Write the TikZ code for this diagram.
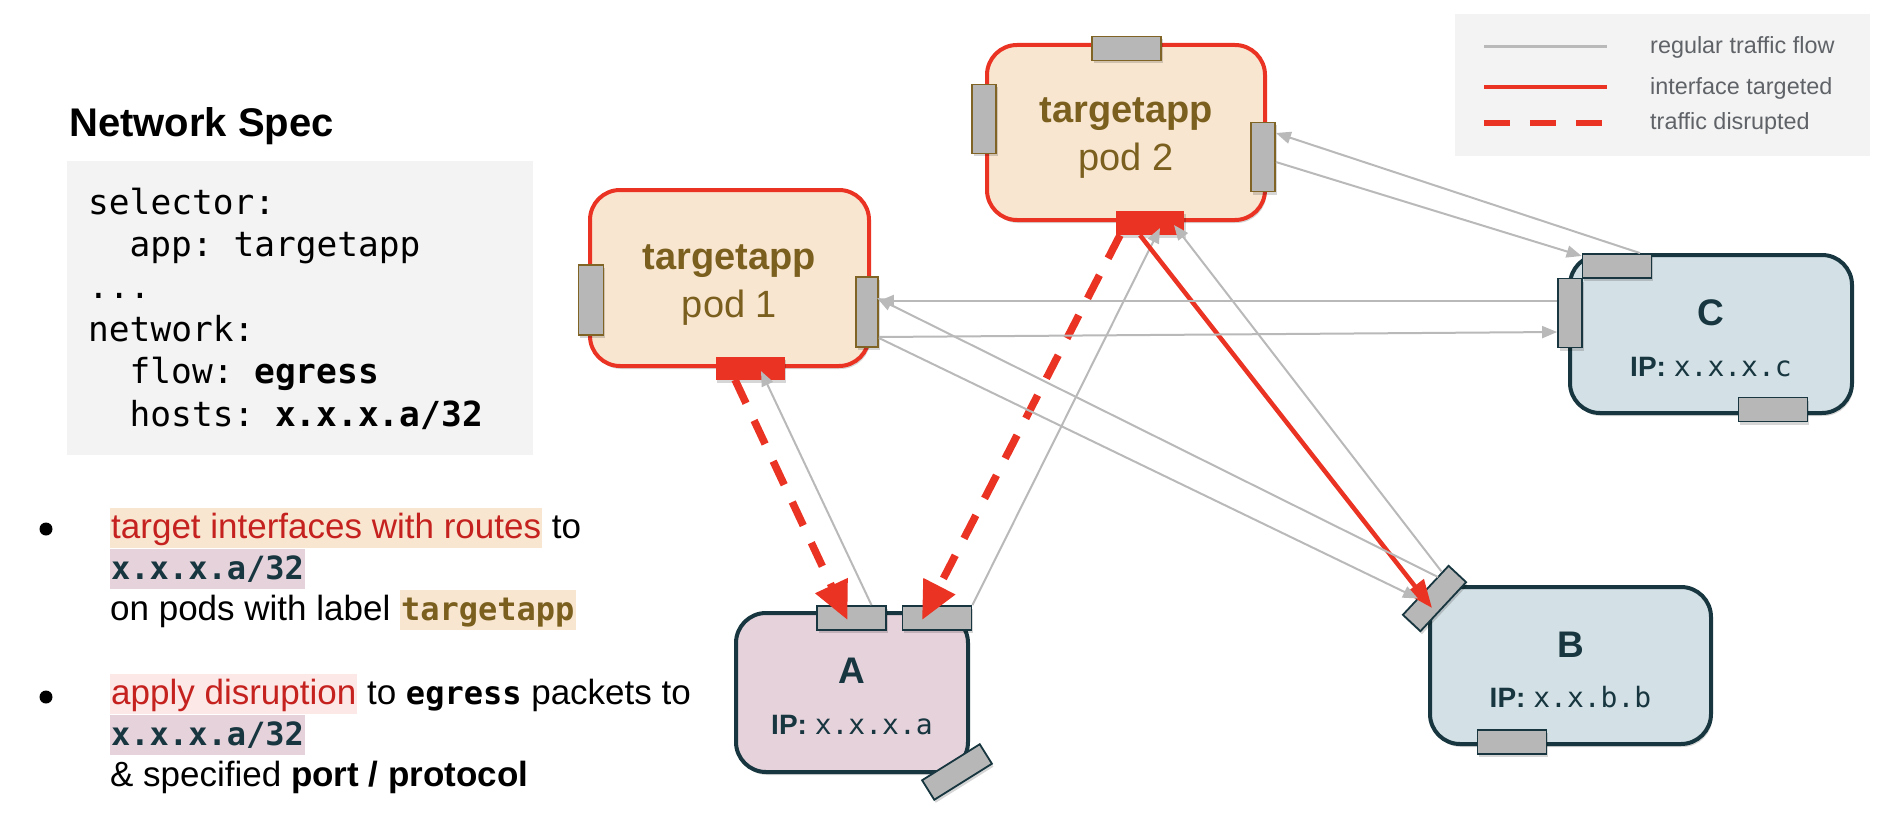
\documentclass[tikz,border=0pt]{standalone}
\usepackage{fontspec}
\setmainfont{Liberation Sans}
\setsansfont{Liberation Sans}
\setmonofont{DejaVu Sans Mono}
\usetikzlibrary{arrows.meta,shadows}

\definecolor{podfill}{HTML}{F9E6D1}
\definecolor{podred}{HTML}{EA3323}
\definecolor{brownink}{HTML}{7A5F1E}
\definecolor{ifgray}{HTML}{B7B7B7}
\definecolor{ifbrown}{HTML}{7F6425}
\definecolor{tealink}{HTML}{17363F}
\definecolor{hostA}{HTML}{E6D2DB}
\definecolor{hostBC}{HTML}{D3E0E5}
\definecolor{panel}{HTML}{F3F3F3}
\definecolor{flowgray}{HTML}{B9B9B9}
\definecolor{legendtext}{HTML}{5F6368}
\definecolor{hlpeach}{HTML}{F9E6D1}
\definecolor{hlpink}{HTML}{FCE8E6}
\definecolor{hllav}{HTML}{E6D2DB}
\definecolor{alertred}{HTML}{C5221F}

% highlighted run of text with a fixed-height background
\newcommand\hlbox[2]{{\setlength\fboxsep{1pt}\colorbox{#1}{\vrule width 0pt height 29pt depth 9pt#2}}}
\newcommand\bmono{\fontsize{32pt}{41pt}\selectfont\ttfamily\bfseries}

\tikzset{
  txt/.style={inner sep=0pt, anchor=base west},
  ctxt/.style={inner sep=0pt, anchor=base},
  codeline/.style={txt, font=\fontsize{34.5pt}{41pt}\selectfont\ttfamily},
  bline/.style={txt, font=\fontsize{35pt}{41pt}\selectfont},
  legendline/.style={txt, text=legendtext, font=\fontsize{23.4pt}{28pt}\selectfont},
  softshadow/.style={drop shadow={shadow xshift=1.5pt, shadow yshift=-3pt, opacity=.16, fill=black}},
  podbox/.style={draw=podred, line width=4pt, fill=podfill, rounded corners=30pt, inner sep=0pt, softshadow},
  hostbox/.style={draw=tealink, line width=4pt, rounded corners=30pt, inner sep=0pt, softshadow},
  ifpod/.style={draw=ifbrown, line width=1.8pt, fill=ifgray, inner sep=0pt, softshadow},
  ifhost/.style={draw=tealink, line width=1.8pt, fill=ifgray, inner sep=0pt, softshadow},
  ifred/.style={fill=podred, inner sep=0pt, softshadow},
  hwide/.style={minimum width=69pt, minimum height=24pt},
  vtall/.style={minimum width=24pt, minimum height=69pt},
  flow/.style={draw=flowgray, line width=2pt, -{Triangle[length=15pt,width=12pt]}},
  hit/.style={draw=podred, line width=4.5pt, -{Triangle[length=28pt,width=22pt]}},
  cut/.style={draw=podred, line width=7.5pt, dash pattern=on 26pt off 19pt, -{Triangle[length=38pt,width=34pt]}},
  podtitle/.style={ctxt, text=brownink, font=\fontsize{38pt}{44pt}\selectfont\bfseries},
  podname/.style={ctxt, text=brownink, font=\fontsize{38pt}{44pt}\selectfont},
  hostname/.style={ctxt, text=tealink, font=\fontsize{37pt}{44pt}\selectfont\bfseries},
  hostip/.style={ctxt, text=tealink, font=\fontsize{28pt}{34pt}\selectfont},
}

\begin{document}
\begin{tikzpicture}[x=1pt,y=-1pt]
\useasboundingbox (0,0) rectangle (1898,832);

% ---------- network spec panel ----------
\node[txt, font=\fontsize{40pt}{48pt}\selectfont\bfseries] (title) at (69,136) {Network Spec};
\node[fill=panel, minimum width=466pt, minimum height=294pt, inner sep=0pt] (codebox) at (300,308) {};
\node[codeline] (c1) at (88,214) {selector:};
\node[codeline] (c2) at (129.5,256) {app: targetapp};
\node[codeline] (c3) at (88,298) {...};
\node[codeline] (c4) at (88,341) {network:};
\node[codeline] (c5) at (129.5,383) {flow: \textbf{egress}};
\node[codeline] (c6) at (129.5,426) {hosts: \textbf{x.x.x.a/32}};

% ---------- bullet notes ----------
\node[circle, fill=black, minimum size=13pt, inner sep=0pt] (dot1) at (46,529) {};
\node[circle, fill=black, minimum size=13pt, inner sep=0pt] (dot2) at (46,697) {};
\node[bline] (b1) at (110,538) {\hlbox{hlpeach}{\color{alertred}target interfaces with routes} to};
\node[bline] (b2) at (110,579) {\hlbox{hllav}{\bmono\color{tealink}x.x.x.a/32}};
\node[bline] (b3) at (110,620) {on pods with label \hlbox{hlpeach}{\bmono\color{brownink}targetapp}};
\node[bline] (b4) at (110,704) {\hlbox{hlpink}{\color{alertred}apply disruption} to {\bmono egress} packets to};
\node[bline] (b5) at (110,745) {\hlbox{hllav}{\bmono\color{tealink}x.x.x.a/32}};
\node[bline] (b6) at (110,786) {\& specified \textbf{port / protocol}};

% ---------- legend ----------
\node[fill=panel, minimum width=415pt, minimum height=142pt, inner sep=0pt] (legend) at (1662.5,85) {};
\coordinate (lg1a) at (1484,47);  \coordinate (lg1b) at (1607,47);
\coordinate (lg2a) at (1484,87);  \coordinate (lg2b) at (1607,87);
\coordinate (lg3a) at (1484,123); \coordinate (lg3b) at (1607,123);
\draw[flowgray, line width=3pt] (lg1a) -- (lg1b);
\draw[podred, line width=4.5pt] (lg2a) -- (lg2b);
\draw[podred, line width=6.5pt, dash pattern=on 26pt off 20pt] (lg3a) -- (lg3b);
\node[legendline] (lt1) at (1650,54) {regular traffic flow};
\node[legendline] (lt2) at (1650,95) {interface targeted};
\node[legendline] (lt3) at (1650,130) {traffic disrupted};

% ---------- pods ----------
\node[podbox, minimum width=279pt, minimum height=176pt] (pod1) at (729.5,278) {};
\node[podbox, minimum width=278pt, minimum height=175pt] (pod2) at (1126,132.5) {};
\node[podtitle] (pod1t) at (729.5,269) {targetapp};
\node[podname]  (pod1n) at (729.5,317) {pod 1};
\node[podtitle] (pod2t) at (1126,123) {targetapp};
\node[podname]  (pod2n) at (1126,171) {pod 2};

% ---------- hosts ----------
\node[hostbox, fill=hostA, minimum width=232pt, minimum height=159pt] (A) at (852,692.5) {};
\node[hostbox, fill=hostBC, minimum width=281pt, minimum height=157pt] (B) at (1570.5,665.5) {};
\node[hostbox, fill=hostBC, minimum width=282pt, minimum height=158pt] (C) at (1711,334) {};
\node[hostname] (At) at (852,683) {A};
\node[hostip]   (Ai) at (852,734) {\textbf{IP:} {\ttfamily x.x.x.a}};
\node[hostname] (Bt) at (1570.5,657) {B};
\node[hostip]   (Bi) at (1570.5,707) {\textbf{IP:} {\ttfamily x.x.b.b}};
\node[hostname] (Ct) at (1711,325) {C};
\node[hostip]   (Ci) at (1711,376) {\textbf{IP:} {\ttfamily x.x.x.c}};

% ---------- interfaces ----------
\node[ifpod, minimum width=25pt, minimum height=70pt] (p1L) at (591,300) {};
\node[ifpod, minimum width=22pt, minimum height=70pt] (p1R) at (867,312) {};
\node[ifred, minimum width=69pt, minimum height=23pt] (p1X) at (750,368) {};
\node[ifpod, hwide] (p2T) at (1126.5,48.5) {};
\node[ifpod, vtall] (p2L) at (984,119) {};
\node[ifpod, vtall] (p2R) at (1263,157) {};
\node[ifred, minimum width=68pt, minimum height=24pt] (p2X) at (1150,223) {};
\node[ifhost, hwide] (A1) at (851.5,618) {};
\node[ifhost, hwide] (A2) at (937,618) {};
\node[ifhost, minimum width=68pt, minimum height=23pt, rotate=32] (A3) at (957,772) {};
\node[ifhost, minimum width=67pt, minimum height=24pt, rotate=47] (B1) at (1434.5,598.5) {};
\node[ifhost, hwide] (B2) at (1512,742) {};
\node[ifhost, hwide] (C1) at (1617,266) {};
\node[ifhost, vtall] (C2) at (1570,313) {};
\node[ifhost, hwide] (C3) at (1773,409.5) {};

% ---------- traffic ----------
% pod 1 <-> A
\draw[flow] ([xshift=20pt]A1.north) -- ([xshift=11pt,yshift=-3pt]p1X.center);
\draw[cut]  ([xshift=-15pt]p1X.south) -- ([xshift=-4pt,yshift=-2pt]A1.center);
% pod 2 <-> A
\draw[flow] (A2.north east) -- ([xshift=10pt,yshift=-5pt]p2X.center);
\draw[cut]  ([xshift=-30pt]p2X.south) -- ([xshift=-15pt,yshift=-2pt]A2.center);
% pod 2 <-> B
\draw[flow] ([xshift=7pt,yshift=27pt]B1.center) -- ([xshift=24pt,yshift=-2pt]p2X.center);
\draw[hit]  ([xshift=-10pt]p2X.south) -- ([xshift=-2.5pt,yshift=-9.5pt]B1.center);
% pod 1 <-> B
\draw[flow] ([xshift=3.5pt,yshift=21.5pt]B1.center) -- ([xshift=10pt,yshift=14pt]p1R.center);
\draw[flow] ([yshift=-26pt]p1R.east) -- ([xshift=-16.5pt]B1.center);
% pod 1 <-> C
\draw[flow] ([yshift=12pt]C2.west) -- ([yshift=11pt]p1R.east);
\draw[flow] ([yshift=-25pt]p1R.east) -- ([yshift=-19pt]C2.west);
% pod 2 <-> C
\draw[flow] ([xshift=23pt]C1.north) -- ([yshift=24pt]p2R.east);
\draw[flow] ([yshift=-5pt]p2R.east) -- ([yshift=10pt]C1.west);
\end{tikzpicture}
\end{document}
